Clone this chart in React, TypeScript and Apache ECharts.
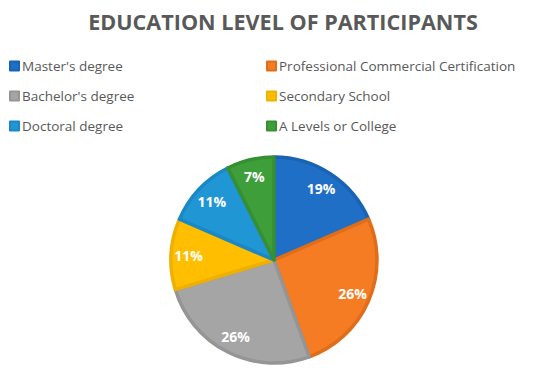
import React, { useEffect, useRef } from "react";
import * as echarts from "echarts";

const titleText = "EDUCATION LEVEL OF PARTICIPANTS";
const categories = [
  "Master's degree",
  "Professional Commercial Certification",
  "Bachelor's degree",
  "Secondary School",
  "Doctoral degree",
  "A Levels or College",
];
const values = [5, 7, 7, 3, 3, 2];
const colors = ["#1f6fc6", "#f57c22", "#a5a5a5", "#ffbf00", "#2196d5", "#3e9e3a"];
const borderColors = ["#1a63b3", "#e06d1a", "#959595", "#f0b000", "#1a88c4", "#368f33"];
const legendLeft = ["Master's degree", "Bachelor's degree", "Doctoral degree"];
const legendRight = ["Professional Commercial Certification", "Secondary School", "A Levels or College"];

export default function App() {
  const ref = useRef<HTMLDivElement>(null);
  useEffect(() => {
    document.body.style.margin = "0";
    if (!ref.current) return;
    const chart = echarts.init(ref.current, undefined, { renderer: "svg" });
    const total = values.reduce((a, b) => a + b, 0);
    const font = "Open Sans";
    const legendCommon = {
      orient: "vertical" as const,
      top: 54,
      itemWidth: 9,
      itemHeight: 9,
      itemGap: 16,
      icon: "rect",
      textStyle: { color: "#595959", fontSize: 13.5, fontFamily: font, padding: [0, 0, 0, -2] },
    };
    chart.setOption({
      animation: false,
      color: colors,
      title: {
        text: titleText,
        left: 278,
        textAlign: "center",
        top: 5,
        textStyle: { color: "#595959", fontSize: 21.6, fontWeight: "bold", fontFamily: font },
      },
      legend: [
        { ...legendCommon, left: 4, data: legendLeft },
        { ...legendCommon, left: 261, data: legendRight },
      ],
      series: [
        {
          type: "pie",
          center: [274, 260],
          radius: 103,
          startAngle: 90,
          label: { show: false },
          labelLine: { show: false },
          data: categories.map((name, i) => ({
            name,
            value: values[i],
            itemStyle: { color: colors[i], borderColor: borderColors[i], borderWidth: 3.5 },
          })),
        },
        {
          type: "pie",
          center: [274, 260],
          radius: [62, 103],
          startAngle: 90,
          silent: true,
          legendHoverLink: false,
          itemStyle: { color: "transparent", borderWidth: 0 },
          label: {
            show: true,
            position: "inside",
            color: "#ffffff",
            fontWeight: "bold",
            fontSize: 14,
            fontFamily: font,
            formatter: (p: any) => Math.round((p.value / total) * 100) + "%",
          },
          labelLine: { show: false },
          data: categories.map((name, i) => ({ name: name + " ", value: values[i] })),
        },
      ],
    });
    return () => chart.dispose();
  }, []);
  return <div ref={ref} style={{ width: 550, height: 373 }} />;
}
